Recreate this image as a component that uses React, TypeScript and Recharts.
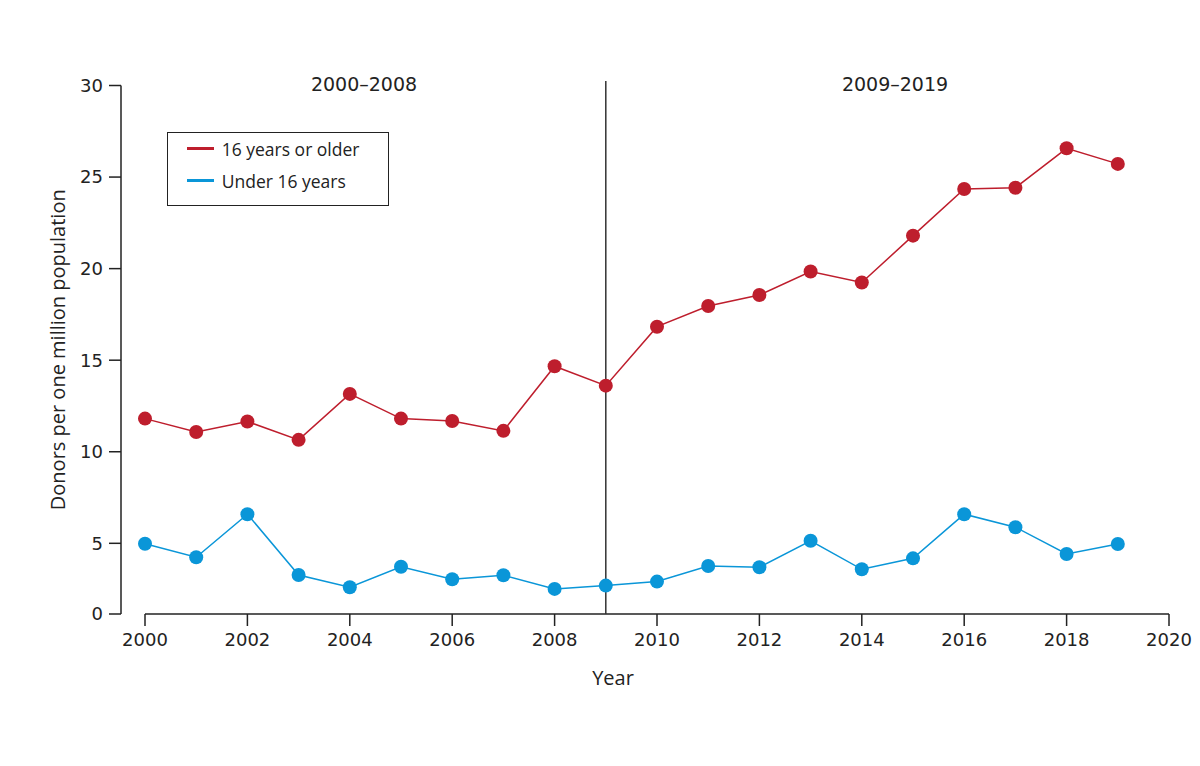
import { LineChart, Line, XAxis, YAxis, ReferenceLine, Legend } from "recharts";

const years = [
  2000, 2001, 2002, 2003, 2004, 2005, 2006, 2007, 2008, 2009,
  2010, 2011, 2012, 2013, 2014, 2015, 2016, 2017, 2018, 2019,
];
const olderRates = [
  11.81, 11.08, 11.65, 10.65, 13.16, 11.81, 11.68, 11.14, 14.67, 13.61,
  16.83, 17.96, 18.56, 19.84, 19.24, 21.8, 24.35, 24.42, 26.57, 25.72,
];
const under16Rates = [
  4.98, 4.24, 6.59, 3.27, 2.6, 3.72, 3.04, 3.26, 2.51, 2.69,
  2.91, 3.76, 3.69, 5.14, 3.58, 4.18, 6.59, 5.88, 4.42, 4.96,
];
const seriesNames = ["16 years or older", "Under 16 years"];
const periodLabels = ["2000–2008", "2009–2019"];
const splitYear = 2009;
const xTicks = [2000, 2002, 2004, 2006, 2008, 2010, 2012, 2014, 2016, 2018, 2020];
const yTicks = [5, 10, 15, 20, 25, 30];
// the source axis stops a little above zero but still labels its bottom "0"
const yFloor = 1.14;

const RED = "#be1e2d";
const BLUE = "#0a96d8";
const INK = "#222";

const data = years.map((year, i) => ({
  year,
  older: olderRates[i],
  under16: under16Rates[i],
}));

const tickStyle = { fill: INK, fontSize: 18, fontFamily: "DejaVu Sans" };

function LegendBox({ payload }: any) {
  return (
    <div
      style={{
        width: 222,
        height: 74,
        boxSizing: "border-box",
        border: `1.5px solid ${INK}`,
        background: "#fff",
        fontFamily: "Open Sans",
        fontSize: 17.5,
        color: INK,
      }}
    >
      {(payload || []).map((entry: any) => (
        <div key={entry.value} style={{ display: "flex", alignItems: "center", height: 32 }}>
          <span
            style={{
              display: "inline-block",
              width: 27,
              height: 2.5,
              marginLeft: 19.5,
              marginRight: 7.5,
              background: entry.color,
            }}
          />
          <span>{entry.value}</span>
        </div>
      ))}
    </div>
  );
}

const periodStyle = {
  position: "absolute" as const,
  top: 76,
  transform: "translate(-50%, -50%)",
  fontFamily: "DejaVu Sans",
  fontSize: 19,
  color: INK,
  whiteSpace: "nowrap" as const,
};

export default function App() {
  return (
    <div style={{ position: "relative", width: 1184, height: 750, background: "#fff" }}>
      <LineChart
        width={1184}
        height={750}
        data={data}
        margin={{ top: 77.5, right: 23, bottom: 68, left: 20 }}
      >
        <XAxis
          dataKey="year"
          type="number"
          domain={[2000, 2020]}
          ticks={xTicks}
          padding={{ left: 24, right: 0 }}
          axisLine={false}
          tickLine={{ stroke: INK, strokeWidth: 1.5 }}
          tickSize={12}
          tickMargin={7}
          tick={tickStyle}
          height={76}
          label={{
            value: "Year",
            position: "insideBottom",
            offset: 5,
            dx: -32,
            style: { fill: INK, fontSize: 20, fontFamily: "Open Sans" },
          }}
        />
        <YAxis
          type="number"
          domain={[yFloor, 30]}
          ticks={[yFloor, ...yTicks]}
          tickFormatter={(v: number) => (v === yFloor ? "0" : String(v))}
          allowDataOverflow
          width={93}
          axisLine={{ stroke: INK, strokeWidth: 1.5 }}
          tickLine={{ stroke: INK, strokeWidth: 1.5 }}
          tickSize={12}
          tickMargin={6}
          tick={tickStyle}
          label={{
            value: "Donors per one million population",
            angle: -90,
            position: "insideLeft",
            offset: 27,
            dx: 3,
            style: { fill: INK, fontSize: 20, fontFamily: "Open Sans", textAnchor: "middle" },
          }}
        />
        <ReferenceLine
          segment={[
            { x: 2000, y: yFloor },
            { x: 2020, y: yFloor },
          ]}
          stroke={INK}
          strokeWidth={1.5}
          ifOverflow="visible"
        />
        <ReferenceLine
          segment={[
            { x: splitYear, y: yFloor },
            { x: splitYear, y: 30.25 },
          ]}
          stroke="#333"
          strokeWidth={1.5}
          ifOverflow="visible"
        />
        <Legend
          layout="vertical"
          align="center"
          verticalAlign="middle"
          content={<LegendBox />}
          wrapperStyle={{ left: 158.7, top: 123.7, width: 222, height: 74 }}
        />
        <Line
          dataKey="older"
          name={seriesNames[0]}
          type="linear"
          stroke={RED}
          strokeWidth={1.5}
          dot={{ r: 7, fill: RED, stroke: "none" }}
          activeDot={false}
          isAnimationActive={false}
        />
        <Line
          dataKey="under16"
          name={seriesNames[1]}
          type="linear"
          stroke={BLUE}
          strokeWidth={1.5}
          dot={{ r: 7, fill: BLUE, stroke: "none" }}
          activeDot={false}
          isAnimationActive={false}
        />
      </LineChart>
      <div style={{ ...periodStyle, left: 356 }}>{periodLabels[0]}</div>
      <div style={{ ...periodStyle, left: 887 }}>{periodLabels[1]}</div>
    </div>
  );
}
